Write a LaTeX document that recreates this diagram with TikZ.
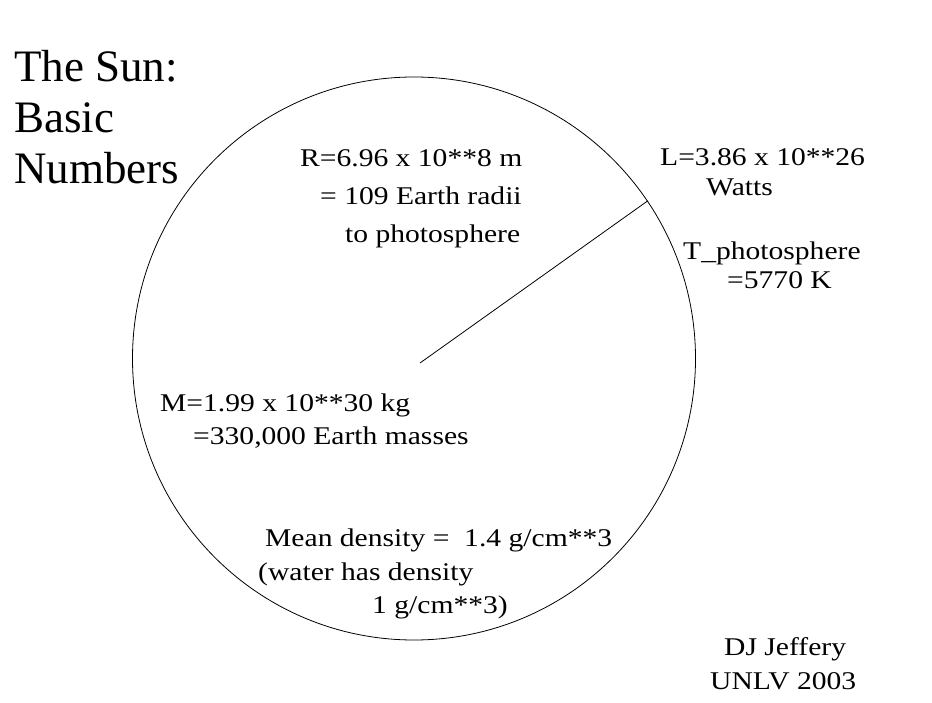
\documentclass[tikz,border=0pt]{standalone}
\usepackage{fontspec}
\setmainfont{Liberation Serif}
\newfontfamily\bodyfont[FakeStretch=1.16]{Liberation Serif}
\begin{document}
\begin{tikzpicture}[x=1pt,y=-1pt,
  lbl/.style={anchor=base west,inner sep=0pt,font=\bodyfont\fontsize{25.5}{30}\selectfont},
  ttl/.style={anchor=base west,inner sep=0pt,font=\fontsize{45}{50}\selectfont}]
\useasboundingbox[fill=white] (0,0) rectangle (932,703);
\node[draw,circle,line width=0.8pt,minimum size=563,inner sep=0pt] (sun) at (414,358.5) {};
\coordinate (c) at (420,363);
\coordinate (edge) at (sun.34);
\draw[line width=0.8pt] (c) -- (edge);
\node[ttl] (t1) at (14,82) {The Sun:};
\node[ttl] (t2) at (14,133) {Basic};
\node[ttl] (t3) at (14,184) {Numbers};
\node[lbl] (r1) at (300,167) {R=6.96 x 10**8 m};
\node[lbl] (r2) at (320,205) {= 109 Earth radii};
\node[lbl] (r3) at (345,243) {to photosphere};
\node[lbl] (l1) at (660,166) {L=3.86 x 10**26};
\node[lbl] (l2) at (706,196) {Watts};
\node[lbl] (tp1) at (683,260) {T\_photosphere};
\node[lbl] (tp2) at (727,289) {=5770 K};
\node[lbl] (m1) at (160,411) {M=1.99 x 10**30 kg};
\node[lbl] (m2) at (193,444) {=330,000 Earth masses};
\node[lbl] (d1) at (265,546) {Mean density =\ \ 1.4 g/cm**3};
\node[lbl] (d2) at (258,580) {(water has density};
\node[lbl] (d3) at (372,613) {1 g/cm**3)};
\node[lbl] (a1) at (724,655) {DJ Jeffery};
\node[lbl] (a2) at (710,689) {UNLV 2003};
\end{tikzpicture}
\end{document}
